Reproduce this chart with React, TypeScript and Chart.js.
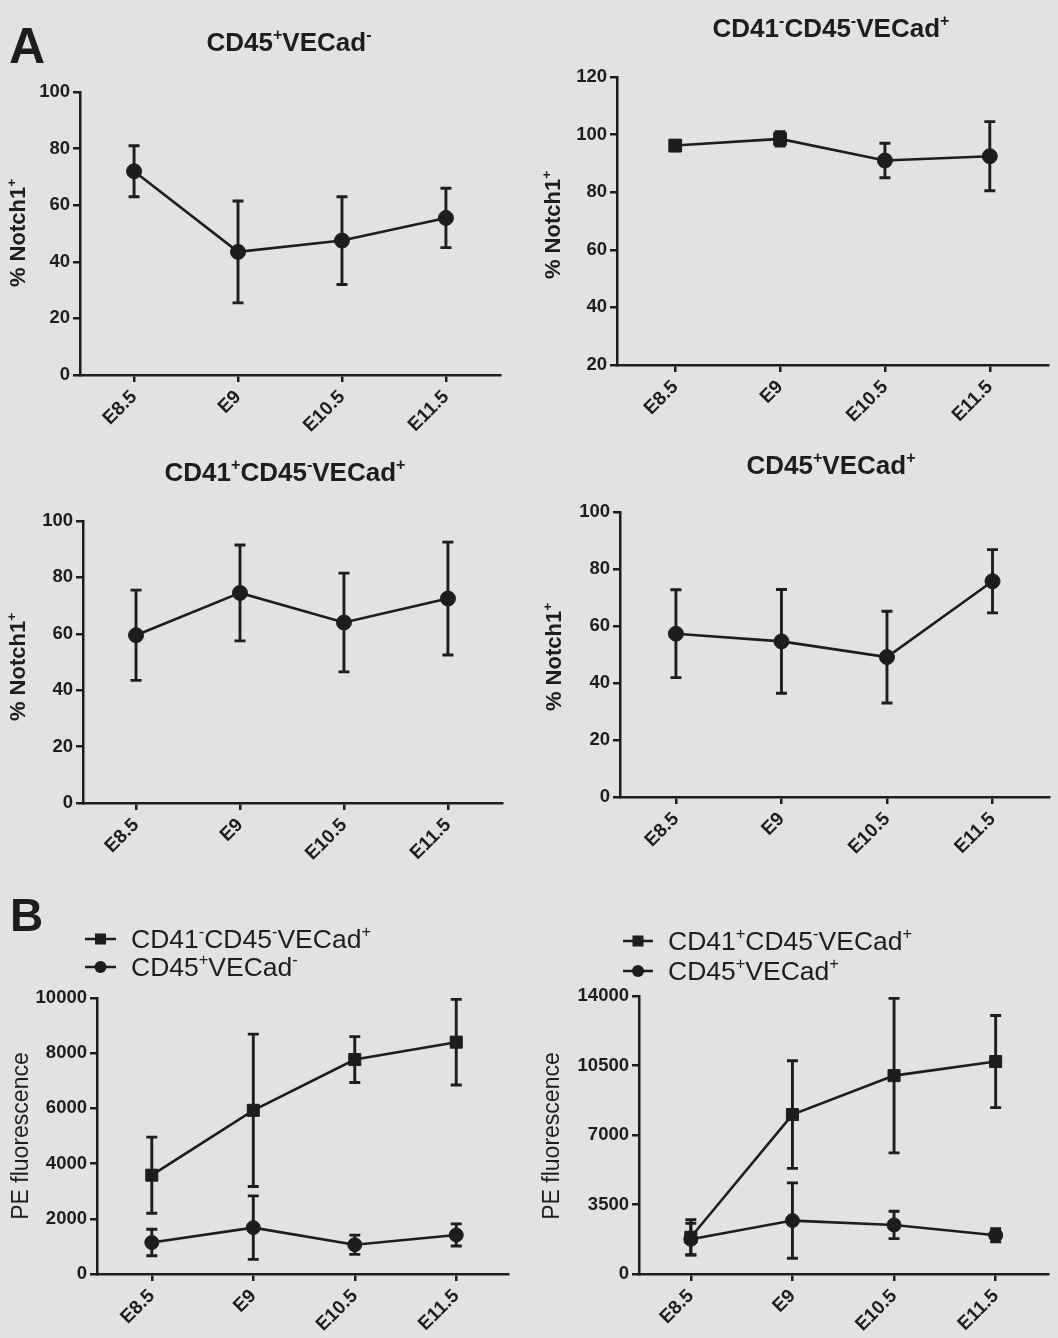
import React, { useEffect, useRef } from 'react';
import { Chart, registerables } from 'chart.js';

Chart.register(...registerables);

// ---------- data ----------
const CATEGORIES = ['E8.5', 'E9', 'E10.5', 'E11.5'];

const PCT_TICKS = [0, 20, 40, 60, 80, 100];
const PCT_TICKS_HIGH = [20, 40, 60, 80, 100, 120];
const PE_TICKS_LEFT = [0, 2000, 4000, 6000, 8000, 10000];
const PE_TICKS_RIGHT = [0, 3500, 7000, 10500, 14000];

// Panel A: % Notch1+ (mean, error)
const A_CD45P_VECADN_MEAN = [72, 43.5, 47.5, 55.5];
const A_CD45P_VECADN_ERR = [9, 18, 15.5, 10.5];
const A_CD41N_CD45N_VECADP_MEAN = [96.2, 98.5, 91, 92.5];
const A_CD41N_CD45N_VECADP_ERR = [1.8, 2.5, 6, 12];
const A_CD41P_CD45N_VECADP_MEAN = [59.5, 74.5, 64, 72.5];
const A_CD41P_CD45N_VECADP_ERR = [16, 17, 17.5, 20];
const A_CD45P_VECADP_MEAN = [57.3, 54.6, 49.1, 75.7];
const A_CD45P_VECADP_ERR = [15.4, 18.2, 16.1, 11.1];

// Panel B: PE fluorescence (mean, error)
const B_CD41N_CD45N_VECADP_MEAN = [3580, 5930, 7770, 8400];
const B_CD41N_CD45N_VECADP_ERR = [1380, 2760, 830, 1550];
const B_CD45P_VECADN_MEAN = [1140, 1680, 1060, 1415];
const B_CD45P_VECADN_ERR = [480, 1150, 350, 400];
const B_CD41P_CD45N_VECADP_MEAN = [1850, 8030, 9990, 10700];
const B_CD41P_CD45N_VECADP_ERR = [880, 2710, 3890, 2320];
const B_CD45P_VECADP_MEAN = [1750, 2690, 2470, 1950];
const B_CD45P_VECADP_ERR = [800, 1900, 690, 330];

// ---------- styles ----------
const INK = '#1d1d1d';
const BG = '#e2e2e2';
const FONT = '"Liberation Sans", Arial, Helvetica, sans-serif';
const CAP = 5.5;

type Seg = [string, number];

const fontStr = (size: number, bold: boolean) => `${bold ? 'bold ' : ''}${size}px ${FONT}`;

function drawRich(
  ctx: CanvasRenderingContext2D,
  segs: Seg[],
  x: number,
  y: number,
  size: number,
  bold: boolean,
  align: 'left' | 'center',
  rotate = 0,
  dy = 0
) {
  ctx.save();
  ctx.translate(x, y);
  if (rotate) ctx.rotate(rotate);
  ctx.fillStyle = INK;
  ctx.textBaseline = 'alphabetic';
  ctx.textAlign = 'left';
  const supSize = size * 0.62;
  let total = 0;
  const widths = segs.map(([t, sup]) => {
    ctx.font = fontStr(sup ? supSize : size, bold);
    const w = ctx.measureText(t).width;
    total += w;
    return w;
  });
  let cx = align === 'center' ? -total / 2 : 0;
  segs.forEach(([t, sup], i) => {
    ctx.font = fontStr(sup ? supSize : size, bold);
    ctx.fillText(t, cx, dy + (sup ? -size * 0.42 : 0));
    cx += widths[i];
  });
  ctx.restore();
}

const T_CD45P_VECADN: Seg[] = [['CD45', 0], ['+', 1], ['VECad', 0], ['-', 1]];
const T_CD41N_CD45N_VECADP: Seg[] = [['CD41', 0], ['-', 1], ['CD45', 0], ['-', 1], ['VECad', 0], ['+', 1]];
const T_CD41P_CD45N_VECADP: Seg[] = [['CD41', 0], ['+', 1], ['CD45', 0], ['-', 1], ['VECad', 0], ['+', 1]];
const T_CD45P_VECADP: Seg[] = [['CD45', 0], ['+', 1], ['VECad', 0], ['+', 1]];
const T_NOTCH: Seg[] = [['% Notch1', 0], ['+', 1]];
const T_PE: Seg[] = [['PE fluorescence', 0]];

interface Series {
  mean: number[];
  err: number[];
  style: string | string[];
  radius: number | number[];
}
interface Spec {
  canvas: { x: number; y: number; w: number; h: number };
  area: { left: number; right: number; top: number; bottom: number };
  xMin: number;
  xMax: number;
  yTicks: number[];
  series: Series[];
  title?: { segs: Seg[]; x: number; y: number };
  yTitle: { segs: Seg[]; x: number; y: number; bold: boolean };
  letter?: { text: string; x: number; y: number; size: number };
  legend?: { x1: number; x2: number; tx: number; rows: { segs: Seg[]; y: number; style: string }[] };
}

const SPECS: Spec[] = [
  {
    canvas: { x: 0, y: 0, w: 529, h: 440 },
    area: { left: 80, right: 500, top: 92, bottom: 375 },
    xMin: -0.52, xMax: 3.52,
    yTicks: PCT_TICKS,
    series: [{ mean: A_CD45P_VECADN_MEAN, err: A_CD45P_VECADN_ERR, style: 'circle', radius: 7.5 }],
    title: { segs: T_CD45P_VECADN, x: 289, y: 51 },
    yTitle: { segs: T_NOTCH, x: 17, y: 233, bold: true },
    letter: { text: 'A', x: 9, y: 63, size: 50 },
  },
  {
    canvas: { x: 529, y: 0, w: 529, h: 440 },
    area: { left: 617, right: 1054, top: 77, bottom: 365 },
    xMin: -0.555, xMax: 3.555,
    yTicks: PCT_TICKS_HIGH,
    series: [{ mean: A_CD41N_CD45N_VECADP_MEAN, err: A_CD41N_CD45N_VECADP_ERR, style: ['rect', 'rect', 'circle', 'circle'], radius: [9, 9, 7.5, 7.5] }],
    title: { segs: T_CD41N_CD45N_VECADP, x: 831, y: 37 },
    yTitle: { segs: T_NOTCH, x: 552, y: 225, bold: true },
  },
  {
    canvas: { x: 0, y: 440, w: 529, h: 450 },
    area: { left: 83, right: 502, top: 521, bottom: 803 },
    xMin: -0.51, xMax: 3.52,
    yTicks: PCT_TICKS,
    series: [{ mean: A_CD41P_CD45N_VECADP_MEAN, err: A_CD41P_CD45N_VECADP_ERR, style: 'circle', radius: 7.5 }],
    title: { segs: T_CD41P_CD45N_VECADP, x: 285, y: 481 },
    yTitle: { segs: T_NOTCH, x: 17, y: 667, bold: true },
  },
  {
    canvas: { x: 529, y: 440, w: 529, h: 450 },
    area: { left: 620, right: 1056, top: 512, bottom: 797 },
    xMin: -0.53, xMax: 3.54,
    yTicks: PCT_TICKS,
    series: [{ mean: A_CD45P_VECADP_MEAN, err: A_CD45P_VECADP_ERR, style: 'circle', radius: 7.5 }],
    title: { segs: T_CD45P_VECADP, x: 831, y: 474 },
    yTitle: { segs: T_NOTCH, x: 553, y: 657, bold: true },
  },
  {
    canvas: { x: 0, y: 890, w: 529, h: 448 },
    area: { left: 97, right: 508, top: 998, bottom: 1274 },
    xMin: -0.54, xMax: 3.51,
    yTicks: PE_TICKS_LEFT,
    series: [
      { mean: B_CD41N_CD45N_VECADP_MEAN, err: B_CD41N_CD45N_VECADP_ERR, style: 'rect', radius: 8.5 },
      { mean: B_CD45P_VECADN_MEAN, err: B_CD45P_VECADN_ERR, style: 'circle', radius: 7 },
    ],
    yTitle: { segs: T_PE, x: 20, y: 1136, bold: false },
    letter: { text: 'B', x: 10, y: 931, size: 46 },
    legend: {
      x1: 85, x2: 116, tx: 131,
      rows: [
        { segs: T_CD41N_CD45N_VECADP, y: 939, style: 'rect' },
        { segs: T_CD45P_VECADN, y: 967, style: 'circle' },
      ],
    },
  },
  {
    canvas: { x: 529, y: 890, w: 529, h: 448 },
    area: { left: 639, right: 1057, top: 996, bottom: 1274 },
    xMin: -0.51, xMax: 3.52,
    yTicks: PE_TICKS_RIGHT,
    series: [
      { mean: B_CD41P_CD45N_VECADP_MEAN, err: B_CD41P_CD45N_VECADP_ERR, style: 'rect', radius: 8.5 },
      { mean: B_CD45P_VECADP_MEAN, err: B_CD45P_VECADP_ERR, style: 'circle', radius: 7 },
    ],
    yTitle: { segs: T_PE, x: 551, y: 1136, bold: false },
    legend: {
      x1: 623, x2: 653, tx: 668,
      rows: [
        { segs: T_CD41P_CD45N_VECADP, y: 941, style: 'rect' },
        { segs: T_CD45P_VECADP, y: 971, style: 'circle' },
      ],
    },
  },
];

function Panel({ spec }: { spec: Spec }) {
  const ref = useRef<HTMLCanvasElement | null>(null);
  const c = spec.canvas;

  useEffect(() => {
    if (!ref.current) return;
    const ox = c.x;
    const oy = c.y;

    const decor = {
      id: 'decor',
      beforeDatasetsDraw(chart: any) {
        const ctx: CanvasRenderingContext2D = chart.ctx;
        const ys = chart.scales.y;
        spec.series.forEach((s, di) => {
          const meta = chart.getDatasetMeta(di);
          ctx.save();
          ctx.strokeStyle = INK;
          ctx.lineWidth = 2.9;
          meta.data.forEach((pt: any, j: number) => {
            const m = s.mean[j];
            const e = s.err[j];
            const yT = ys.getPixelForValue(m + e);
            const yB = ys.getPixelForValue(m - e);
            const x = pt.x;
            ctx.beginPath();
            ctx.moveTo(x, yT);
            ctx.lineTo(x, yB);
            ctx.moveTo(x - CAP, yT);
            ctx.lineTo(x + CAP, yT);
            ctx.moveTo(x - CAP, yB);
            ctx.lineTo(x + CAP, yB);
            ctx.stroke();
          });
          ctx.restore();
        });
      },
      afterDraw(chart: any) {
        const ctx: CanvasRenderingContext2D = chart.ctx;
        if (spec.title) drawRich(ctx, spec.title.segs, spec.title.x - ox, spec.title.y - oy, 26, true, 'center');
        const yt = spec.yTitle;
        const ys = yt.bold ? 22 : 23;
        drawRich(ctx, yt.segs, yt.x - ox, yt.y - oy, ys, yt.bold, 'center', -Math.PI / 2, ys * 0.36);
        if (spec.letter) {
          ctx.save();
          ctx.fillStyle = INK;
          ctx.font = fontStr(spec.letter.size, true);
          ctx.textBaseline = 'alphabetic';
          ctx.fillText(spec.letter.text, spec.letter.x - ox, spec.letter.y - oy);
          ctx.restore();
        }
        if (spec.legend) {
          const lg = spec.legend;
          lg.rows.forEach((r) => {
            const y = r.y - oy;
            ctx.save();
            ctx.strokeStyle = INK;
            ctx.fillStyle = INK;
            ctx.lineWidth = 2.5;
            ctx.beginPath();
            ctx.moveTo(lg.x1 - ox, y);
            ctx.lineTo(lg.x2 - ox, y);
            ctx.stroke();
            const mx = (lg.x1 + lg.x2) / 2 - ox;
            if (r.style === 'rect') {
              ctx.fillRect(mx - 5.5, y - 5.5, 11, 11);
            } else {
              ctx.beginPath();
              ctx.arc(mx, y, 6, 0, Math.PI * 2);
              ctx.fill();
            }
            ctx.restore();
            drawRich(ctx, r.segs, lg.tx - ox, y + 9, 26.5, false, 'left');
          });
        }
      },
    };

    const axisGrid = { drawOnChartArea: false, drawTicks: true, tickLength: 7, color: INK, lineWidth: 2.5 };
    const axisBorder = { display: true, color: INK, width: 2.5 };

    const chart = new Chart(ref.current, {
      type: 'line',
      data: {
        datasets: spec.series.map((s) => ({
          data: s.mean.map((v, i) => ({ x: i, y: v })),
          borderColor: INK,
          backgroundColor: INK,
          borderWidth: 2.6,
          pointStyle: s.style as any,
          pointRadius: s.radius as any,
          pointBackgroundColor: INK,
          pointBorderColor: INK,
          pointBorderWidth: 1,
          tension: 0,
          fill: false,
          clip: false as any,
        })),
      },
      options: {
        responsive: false,
        animation: false,
        devicePixelRatio: 1,
        events: [],
        layout: {
          padding: {
            top: spec.area.top - oy,
            right: ox + c.w - spec.area.right,
            left: 0,
            bottom: 0,
          },
        },
        plugins: {
          legend: { display: false },
          tooltip: { enabled: false },
          title: { display: false },
        },
        scales: {
          x: {
            type: 'linear',
            min: spec.xMin,
            max: spec.xMax,
            afterBuildTicks: (s: any) => {
              s.ticks = CATEGORIES.map((_, i) => ({ value: i }));
            },
            afterFit: (s: any) => {
              s.height = oy + c.h - spec.area.bottom;
            },
            ticks: {
              callback: (v: any) => CATEGORIES[v as number] ?? '',
              autoSkip: false,
              minRotation: 45,
              maxRotation: 45,
              color: INK,
              padding: 4,
              font: { family: FONT, size: 19, weight: 'bold' },
            },
            grid: axisGrid,
            border: axisBorder,
          } as any,
          y: {
            type: 'linear',
            min: spec.yTicks[0],
            max: spec.yTicks[spec.yTicks.length - 1],
            afterBuildTicks: (s: any) => {
              s.ticks = spec.yTicks.map((v) => ({ value: v }));
            },
            afterFit: (s: any) => {
              s.width = spec.area.left - ox;
            },
            ticks: {
              callback: (v: any) => String(v),
              color: INK,
              padding: 3,
              font: { family: FONT, size: 18.5, weight: 'bold' },
            },
            grid: axisGrid,
            border: axisBorder,
          } as any,
        },
      },
      plugins: [decor],
    });
    return () => chart.destroy();
  }, []);

  return (
    <canvas
      ref={ref}
      width={c.w}
      height={c.h}
      style={{ position: 'absolute', left: c.x, top: c.y, width: c.w, height: c.h, display: 'block' }}
    />
  );
}

export default function App() {
  useEffect(() => {
    document.body.style.margin = '0';
    document.body.style.background = BG;
  }, []);
  return (
    <div style={{ position: 'absolute', left: 0, top: 0, width: 1058, height: 1338, background: BG, overflow: 'hidden' }}>
      {SPECS.map((s, i) => (
        <Panel key={i} spec={s} />
      ))}
    </div>
  );
}
